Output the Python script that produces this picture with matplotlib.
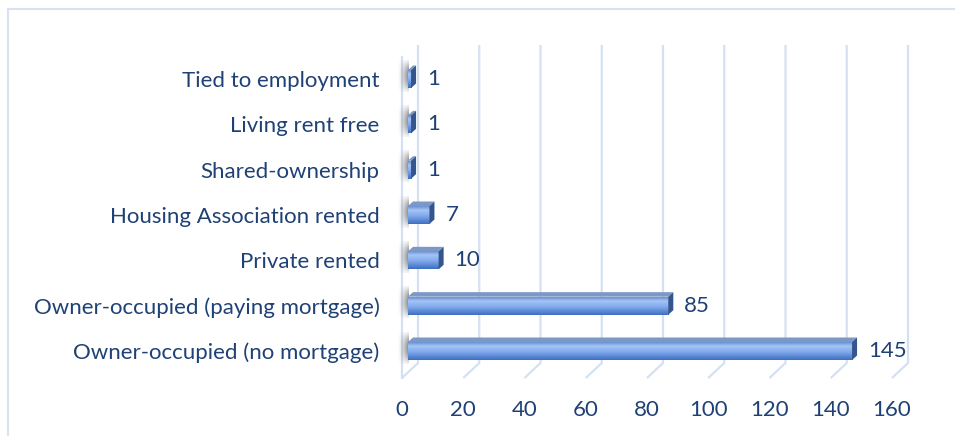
"""
Tenure breakdown - horizontal 3D-style bar chart
"""

import numpy as np
import matplotlib.pyplot as plt
from matplotlib.patches import Polygon
from matplotlib.lines import Line2D
from matplotlib.colors import to_rgb

plt.rcParams['font.family'] = ['Lato', 'DejaVu Sans']

categories = ['Owner-occupied (no mortgage)', 'Owner-occupied (paying mortgage)',
              'Private rented', 'Housing Association rented', 'Shared-ownership',
              'Living rent free', 'Tied to employment']
values = [145, 85, 10, 7, 1, 1, 1]
x_ticks = [0, 20, 40, 60, 80, 100, 120, 140, 160]

TEXT = '#1F4175'
GRID = '#D5E1F2'
FS = 16

# px per unit ~3.06, so these are the 3D offsets in data units
PX = 3.0625
YPX = 45.33
wall_dx, wall_dy = 16 / PX, 15 / YPX      # floor depth
bar_off = 6 / PX                           # bar front plane offset
bar_dx, bar_dy = 5 / PX, 4.5 / YPX         # bar depth
bar_h = 18 / YPX

fig = plt.figure(figsize=(9.55, 4.36), dpi=100)
ax = fig.add_axes([385 / 955, 51 / 436, 545 / 955, 345 / 436])
ax.set_xlim(-17 / PX, 528 / PX)
ax.set_ylim(-34 / YPX, 311 / YPX)

# gridlines (back wall + floor diagonal)
y_top = 306 / YPX
y_back = -12 / YPX
y_front = -27 / YPX
for t in x_ticks:
    ax.plot([t + wall_dx, t + wall_dx, t], [y_top, y_back, y_front],
            color=GRID, lw=1.6, solid_capstyle='butt', zorder=1)
# left wall front edge
ax.plot([0, 0], [y_front, 294 / YPX], color=GRID, lw=1.6, zorder=1)

# gradient for bar front
stops = [(0.0, '#6A90D2'), (0.22, '#A4C5F7'), (0.55, '#80A9EC'), (1.0, '#3E6EC1')]
n = 64
pos = np.linspace(0, 1, n)
grad = np.zeros((n, 1, 3))
for c in range(3):
    grad[:, 0, c] = np.interp(pos, [s[0] for s in stops], [to_rgb(s[1])[c] for s in stops])

# soft shadow left of bars (fades at both ends vertically)
sh = np.zeros((16, 24, 4))
sh[:, :, :3] = 0.3
fx = np.linspace(0, 1, 24) ** 1.6
fy = np.sin(np.linspace(0.15, np.pi - 0.15, 16))
sh[:, :, 3] = 0.7 * np.outer(fy, fx)

for i, v in enumerate(values):
    y0, y1 = i - bar_h / 2, i + bar_h / 2
    x0 = bar_off
    x1 = bar_off + v
    ax.imshow(sh, extent=[-1.6, x0 + 0.3, y0 - 0.08, y1 + bar_dy + 0.12],
              aspect='auto', interpolation='bilinear', zorder=2)
    ax.imshow(grad, extent=[x0, x1, y0, y1], aspect='auto',
              interpolation='bilinear', zorder=3)
    top = Polygon([(x0, y1), (x1, y1), (x1 + bar_dx, y1 + bar_dy), (x0 + bar_dx, y1 + bar_dy)],
                  closed=True, facecolor='#7B98C6', edgecolor='none', zorder=3)
    side = Polygon([(x1, y0), (x1 + bar_dx, y0 + bar_dy), (x1 + bar_dx, y1 + bar_dy), (x1, y1)],
                   closed=True, facecolor='#34568C', edgecolor='none', zorder=3)
    ax.add_patch(top)
    ax.add_patch(side)
    ax.text(x1 + bar_dx + 11 / PX, i, str(v), ha='left', va='center',
            fontsize=FS, color=TEXT, zorder=4)

ax.set_xlim(-17 / PX, 528 / PX)
ax.set_ylim(-34 / YPX, 311 / YPX)

ax.set_yticks(range(len(categories)))
ax.set_yticklabels(categories, fontsize=FS, color=TEXT)
ax.set_xticks(x_ticks)
ax.set_xticklabels([str(t) for t in x_ticks], fontsize=FS, color=TEXT)
ax.tick_params(axis='both', length=0)
ax.tick_params(axis='y', pad=4)
ax.tick_params(axis='x', pad=11)
for s in ax.spines.values():
    s.set_visible(False)

# chart area border (left + top)
fig.add_artist(Line2D([7.5 / 955, 7.5 / 955], [0, 1 - 9.5 / 436],
                      transform=fig.transFigure, color='#D9E2F3', lw=1.5))
fig.add_artist(Line2D([7.5 / 955, 1], [1 - 9.5 / 436, 1 - 9.5 / 436],
                      transform=fig.transFigure, color='#D9E2F3', lw=1.5))

plt.savefig('out.png', dpi=100)
